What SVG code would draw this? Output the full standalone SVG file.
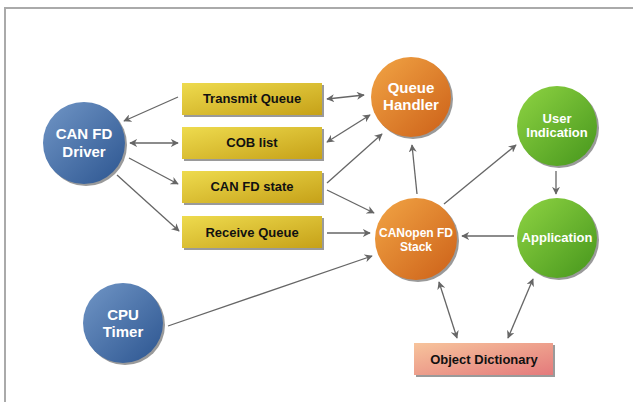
<svg xmlns="http://www.w3.org/2000/svg" width="633" height="402" viewBox="0 0 633 402">
<defs>
<linearGradient id="gBlue" x1="0" y1="0" x2="1" y2="1"><stop offset="0" stop-color="#7196c6"/><stop offset="1" stop-color="#2c5590"/></linearGradient>
<linearGradient id="gOrange" x1="0" y1="0" x2="1" y2="1"><stop offset="0" stop-color="#f2a545"/><stop offset="1" stop-color="#cc6018"/></linearGradient>
<linearGradient id="gGreen" x1="0" y1="0" x2="1" y2="1"><stop offset="0" stop-color="#8fd443"/><stop offset="1" stop-color="#46961c"/></linearGradient>
<linearGradient id="gYellow" x1="0" y1="0" x2="1" y2="1"><stop offset="0" stop-color="#eedb4e"/><stop offset="1" stop-color="#c6a118"/></linearGradient>
<linearGradient id="gPink" x1="0" y1="0" x2="1" y2="1"><stop offset="0" stop-color="#f7c49c"/><stop offset="1" stop-color="#e47a7c"/></linearGradient>
<marker id="ah" viewBox="0 0 10 10" refX="9" refY="5" markerWidth="8" markerHeight="8" markerUnits="userSpaceOnUse" orient="auto-start-reverse">
<path d="M0,0 L10,5 L0,10 L3,5 Z" fill="#666"/>
</marker>
<style>
.frame{fill:none;stroke:#aaa;stroke-width:2}
.shadow{fill:#9a9a9a}
.cb{fill:url(#gBlue)}
.co{fill:url(#gOrange)}
.cg{fill:url(#gGreen)}
.by{fill:url(#gYellow)}
.bp{fill:url(#gPink)}
.ct{font-family:"Liberation Sans",Arial,sans-serif;font-weight:bold;fill:#fff;text-anchor:middle}
.bt{font-family:"Liberation Sans",Arial,sans-serif;font-weight:bold;font-size:13px;fill:#111;text-anchor:middle}
.c line{stroke:#666;stroke-width:1.3;fill:none}
.e{marker-end:url(#ah)}
.b{marker-start:url(#ah);marker-end:url(#ah)}
</style>
</defs>
<rect width="633" height="402" fill="#fff"/>
<rect class="frame" x="5" y="8" width="640" height="410"/>

<g id="connectors" class="c">
<line class="e" x1="178" y1="97" x2="124" y2="121"/>
<line class="b" x1="130" y1="143" x2="178" y2="143"/>
<line class="e" x1="129" y1="158" x2="178" y2="184"/>
<line class="e" x1="117" y1="175" x2="179" y2="231"/>
<line class="b" x1="327" y1="99" x2="364" y2="95"/>
<line class="b" x1="327" y1="142" x2="370" y2="115"/>
<line class="e" x1="327" y1="183" x2="382" y2="134"/>
<line class="e" x1="327" y1="190" x2="374" y2="213"/>
<line class="e" x1="327" y1="233" x2="370" y2="233"/>
<line class="e" x1="417" y1="194" x2="412" y2="145"/>
<line class="e" x1="444" y1="204" x2="516" y2="145"/>
<line class="e" x1="556" y1="171" x2="556" y2="194"/>
<line class="e" x1="514" y1="236" x2="462" y2="236"/>
<line class="e" x1="168" y1="326" x2="372" y2="256"/>
<line class="b" x1="439" y1="282" x2="457" y2="338"/>
<line class="b" x1="533" y1="279" x2="508" y2="338"/>
</g>

<g id="can-fd-driver">
<circle class="shadow" cx="86" cy="145" r="41"/>
<circle class="cb" cx="84" cy="143" r="41"/>
<text class="ct" font-size="15" x="84" y="139">CAN FD</text>
<text class="ct" font-size="15" x="84" y="157">Driver</text>
</g>

<g id="cpu-timer">
<circle class="shadow" cx="125" cy="325" r="40"/>
<circle class="cb" cx="123" cy="323" r="40"/>
<text class="ct" font-size="15" x="123" y="320">CPU</text>
<text class="ct" font-size="15" x="123" y="337">Timer</text>
</g>

<g id="transmit-queue">
<rect class="shadow" x="184" y="85" width="140" height="32"/>
<rect class="by" x="182" y="83" width="140" height="32"/>
<text class="bt" x="252" y="103">Transmit Queue</text>
</g>

<g id="cob-list">
<rect class="shadow" x="184" y="129" width="140" height="32"/>
<rect class="by" x="182" y="127" width="140" height="32"/>
<text class="bt" x="252" y="147">COB list</text>
</g>

<g id="can-fd-state">
<rect class="shadow" x="184" y="173" width="140" height="32"/>
<rect class="by" x="182" y="171" width="140" height="32"/>
<text class="bt" x="252" y="191">CAN FD state</text>
</g>

<g id="receive-queue">
<rect class="shadow" x="184" y="218" width="140" height="32"/>
<rect class="by" x="182" y="216" width="140" height="32"/>
<text class="bt" x="252" y="237">Receive Queue</text>
</g>

<g id="queue-handler">
<circle class="shadow" cx="413" cy="99" r="40"/>
<circle class="co" cx="411" cy="97" r="40"/>
<text class="ct" font-size="15" x="411" y="93">Queue</text>
<text class="ct" font-size="15" x="411" y="110">Handler</text>
</g>

<g id="canopen-fd-stack">
<circle class="shadow" cx="418" cy="241" r="41"/>
<circle class="co" cx="416" cy="239" r="41"/>
<text class="ct" font-size="12" x="416" y="237">CANopen FD</text>
<text class="ct" font-size="12" x="416" y="251">Stack</text>
</g>

<g id="user-indication">
<circle class="shadow" cx="559" cy="128" r="40"/>
<circle class="cg" cx="557" cy="126" r="40"/>
<text class="ct" font-size="13" x="557" y="123">User</text>
<text class="ct" font-size="13" x="557" y="137">Indication</text>
</g>

<g id="application">
<circle class="shadow" cx="559" cy="240" r="40"/>
<circle class="cg" cx="557" cy="238" r="40"/>
<text class="ct" font-size="13" x="557" y="242">Application</text>
</g>

<g id="object-dictionary">
<rect class="shadow" x="416" y="345" width="139" height="32"/>
<rect class="bp" x="414" y="343" width="139" height="32"/>
<text class="bt" x="484" y="364">Object Dictionary</text>
</g>
</svg>
